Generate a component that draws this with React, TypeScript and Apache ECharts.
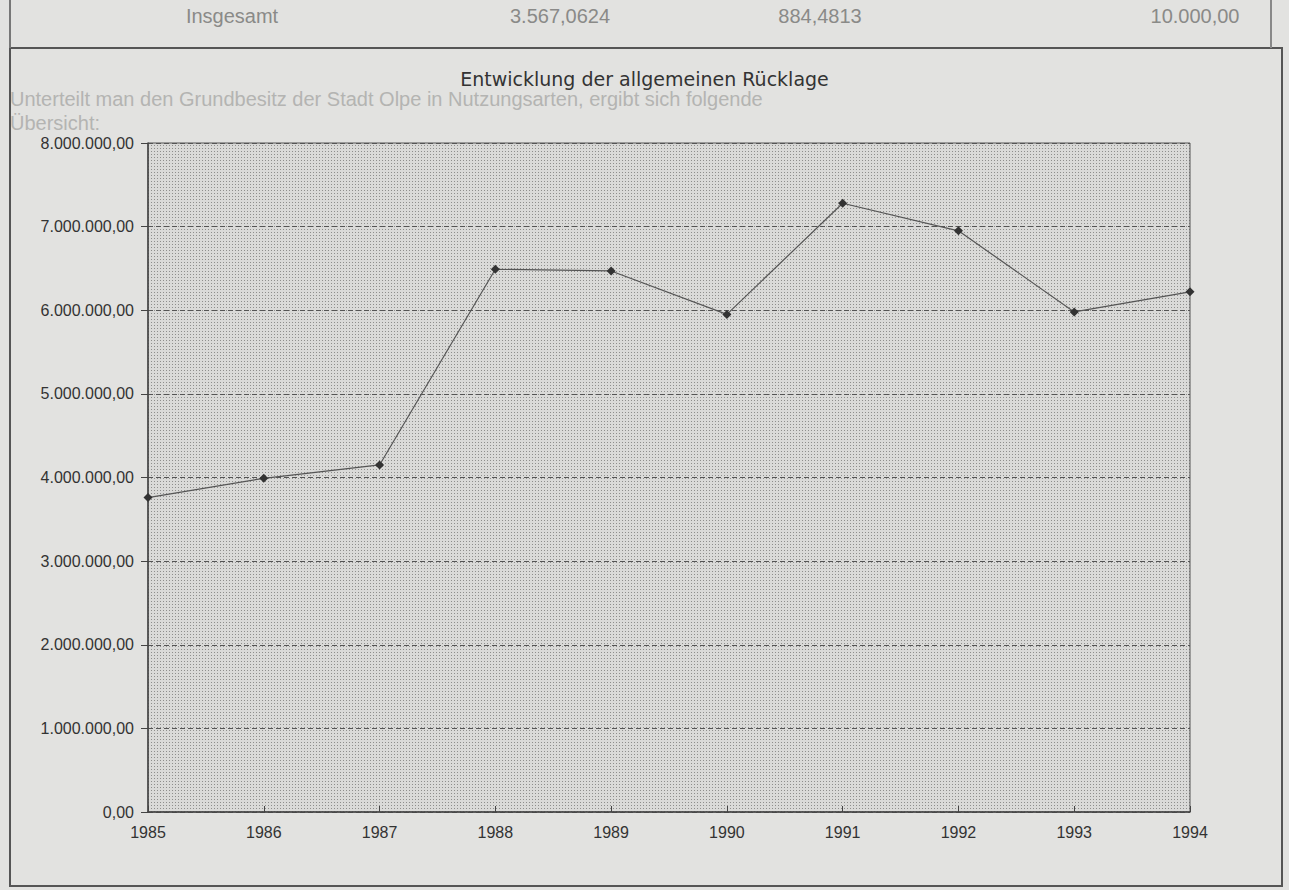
import React, { useEffect, useRef } from "react";
import * as echarts from "echarts";

const years = ["1985", "1986", "1987", "1988", "1989", "1990", "1991", "1992", "1993", "1994"];
const reserveValues = [3760000, 3990000, 4150000, 6490000, 6470000, 5950000, 7280000, 6950000, 5980000, 6220000];
const yMin = 0;
const yMax = 8000000;
const yStep = 1000000;
const titleText = "Entwicklung der allgemeinen Rücklage";
const tableRowTexts = ["Insgesamt", "3.567,0624", "884,4813", "10.000,00"];
const bleedLines = [
  "Unterteilt man den Grundbesitz der Stadt Olpe in Nutzungsarten, ergibt sich folgende",
  "Übersicht:",
];

function germanNumber(v: number): string {
  const s = Math.round(v).toString().replace(/\B(?=(\d{3})+(?!\d))/g, ".");
  return s + ",00";
}

function makeDotPattern(): string | null {
  try {
    const c = document.createElement("canvas");
    c.width = 3;
    c.height = 3;
    const ctx = c.getContext("2d");
    if (!ctx) return null;
    ctx.fillStyle = "#dadad8";
    ctx.fillRect(0, 0, 3, 3);
    ctx.fillStyle = "#8e8e8c";
    ctx.fillRect(1, 1, 1, 1);
    return c.toDataURL();
  } catch (e) {
    return null;
  }
}

export default function App() {
  const ref = useRef<HTMLDivElement>(null);
  useEffect(() => {
    if (!ref.current) return;
    const chart = echarts.init(ref.current, null, { renderer: "svg" });
    const dots = makeDotPattern();
    const plotFill: any = dots ? { image: dots, repeat: "repeat" } : "#d4d4d2";
    const rowX = [232, 560, 820, 1195];
    chart.setOption({
      animation: false,
      backgroundColor: "#e2e2e0",
      title: {
        text: titleText,
        left: "center",
        top: 64,
        textStyle: {
          fontFamily: "DejaVu Sans",
          fontSize: 19,
          fontWeight: "normal",
          color: "#333",
        },
      },
      grid: {
        left: 148,
        right: 99,
        top: 143,
        bottom: 78,
        show: true,
        backgroundColor: plotFill,
        borderColor: "#555",
        borderWidth: 1,
      },
      xAxis: {
        type: "category",
        data: years,
        boundaryGap: false,
        axisLine: { lineStyle: { color: "#444", width: 1.5 } },
        axisTick: { show: true, inside: true, length: 6, lineStyle: { color: "#444" } },
        axisLabel: {
          fontFamily: "Liberation Sans",
          fontSize: 16,
          color: "#333",
          margin: 12,
        },
        splitLine: { show: false },
      },
      yAxis: {
        type: "value",
        min: yMin,
        max: yMax,
        interval: yStep,
        axisLine: { show: true, lineStyle: { color: "#444", width: 1.5 } },
        axisTick: { show: true, length: 7, lineStyle: { color: "#444" } },
        axisLabel: {
          fontFamily: "Liberation Sans",
          fontSize: 16,
          color: "#333",
          margin: 14,
          formatter: (v: number) => germanNumber(v),
        },
        splitLine: {
          show: true,
          lineStyle: { color: "#555", type: [5, 3], width: 1 },
        },
      },
      graphic: [
        ...bleedLines.map((t, i) => ({
          type: "text",
          x: 10,
          y: 89 + i * 24,
          silent: true,
          z: -1,
          style: {
            text: t,
            fill: "#b4b4b2",
            font: "20px 'Liberation Sans'",
          },
        })),
        ...tableRowTexts.map((t, i) => ({
          type: "text",
          x: rowX[i],
          y: 6,
          silent: true,
          style: {
            text: t,
            fill: "#8a8a88",
            font: "20px 'Liberation Sans'",
            textAlign: "center",
          },
        })),
        {
          type: "rect",
          shape: { x: 10, y: 48, width: 1272, height: 838 },
          style: { fill: "none", stroke: "#555", lineWidth: 2 },
          silent: true,
        },
        {
          type: "line",
          shape: { x1: 10, y1: 0, x2: 10, y2: 48 },
          style: { stroke: "#777", lineWidth: 2 },
          silent: true,
        },
        {
          type: "line",
          shape: { x1: 1271, y1: 0, x2: 1271, y2: 48 },
          style: { stroke: "#888", lineWidth: 2 },
          silent: true,
        },
      ],
      series: [
        {
          type: "line",
          data: reserveValues,
          symbol: "diamond",
          symbolSize: 9,
          showSymbol: true,
          itemStyle: { color: "#333" },
          lineStyle: { color: "#555", width: 1.2 },
        },
      ],
    });
    return () => chart.dispose();
  }, []);
  return (
    <div
      ref={ref}
      style={{ position: "fixed", left: 0, top: 0, width: 1289, height: 890 }}
    />
  );
}
